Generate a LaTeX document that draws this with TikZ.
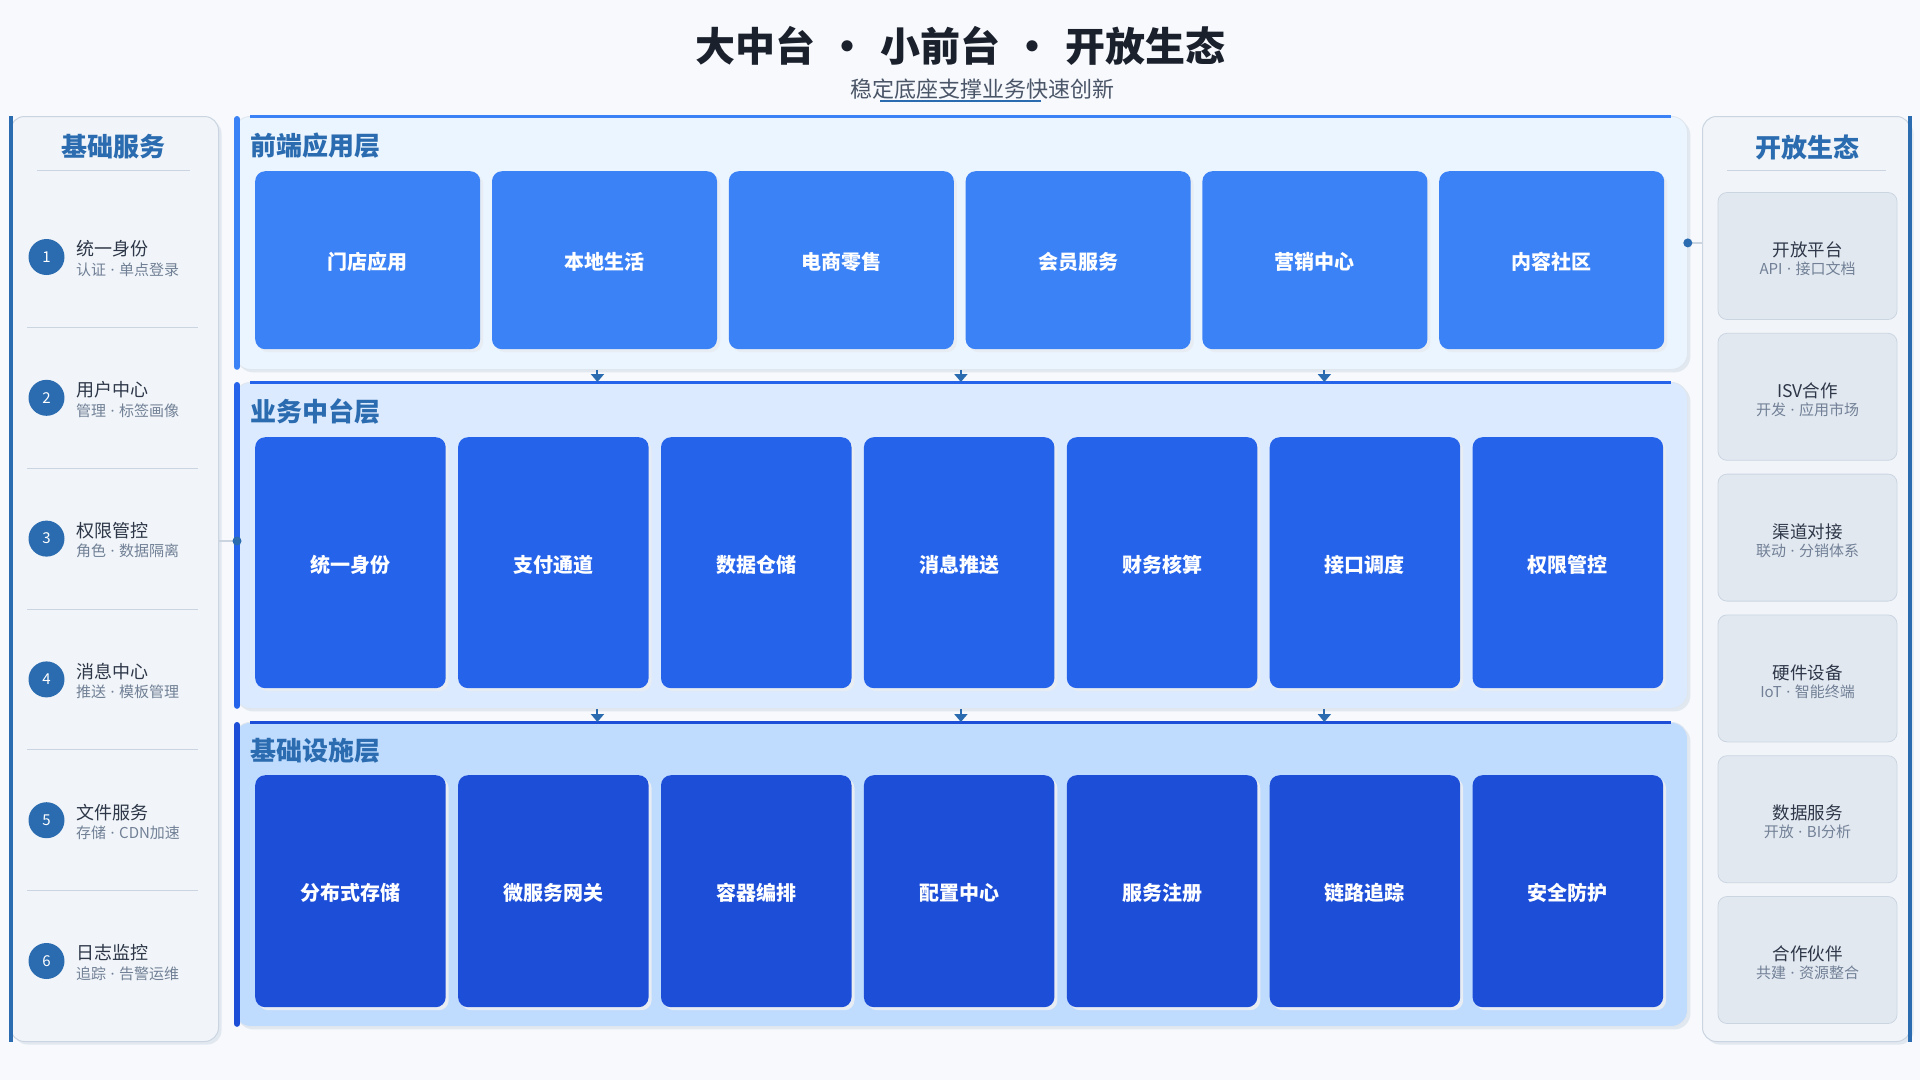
\documentclass[tikz,border=0pt]{standalone}
\usepackage{fontspec}
\setmainfont{Noto Sans CJK SC}
\newfontfamily\latinfont{Noto Sans}
\newcommand{\mydot}{\hspace{0.3em}{\latinfont ·}\hspace{0.3em}}
\usetikzlibrary{arrows.meta,calc}
\definecolor{pagebg}{HTML}{F7F9FC}
\definecolor{sidebg}{HTML}{F1F5F9}
\definecolor{sideline}{HTML}{CBD5E1}
\definecolor{shade}{HTML}{E2E8F0}
\definecolor{accent}{HTML}{2B6CB0}
\definecolor{titlec}{HTML}{1A202C}
\definecolor{subc}{HTML}{4A5568}
\definecolor{itemc}{HTML}{2D3748}
\definecolor{graytxt}{HTML}{718096}
\definecolor{cardgray}{HTML}{E2E8F0}
\definecolor{lyA}{HTML}{EBF5FF}
\definecolor{lyB}{HTML}{DBEAFE}
\definecolor{lyC}{HTML}{BFDBFE}
\definecolor{cdA}{HTML}{3B82F6}
\definecolor{cdB}{HTML}{2563EB}
\definecolor{cdC}{HTML}{1D4ED8}
\tikzset{
  shadowed/.style={preaction={fill=shade, transform canvas={shift={(3pt,-3pt)}}}},
  sidepanel/.style={shadowed, draw=sideline, line width=1pt, fill=sidebg, rounded corners=14pt, anchor=north west, inner sep=0pt},
  layerpanel/.style={shadowed, draw=sideline!60, line width=0.8pt, rounded corners=16pt, anchor=north west, inner sep=0pt},
  layercard/.style={preaction={fill=shade!80!white, transform canvas={shift={(3pt,-3pt)}}}, rounded corners=10pt, anchor=north west, inner sep=0pt},
  cardtext/.style={text=white, font=\fontsize{20}{24}\selectfont\bfseries, inner sep=0pt, yshift=-2pt},
  layerhead/.style={anchor=west, text=accent, font=\fontsize{26}{30}\selectfont\bfseries, inner sep=0pt},
  sidehead/.style={text=accent, font=\fontsize{26}{30}\selectfont\bfseries, inner sep=0pt},
  numc/.style={circle, fill=accent, text=white, minimum size=36pt, inner sep=0pt, font=\fontsize{15}{17}\selectfont},
  itemtitle/.style={anchor=west, text=itemc, font=\fontsize{18}{21}\selectfont, inner sep=0pt},
  itemsub/.style={anchor=west, text=graytxt, font=\fontsize{15}{17}\selectfont, inner sep=0pt},
  rcard/.style={draw=sideline, line width=0.8pt, fill=cardgray, rounded corners=9pt, minimum width=179pt, minimum height=127pt, inner sep=0pt},
  rtitle/.style={text=itemc, font=\fontsize{17.5}{20}\selectfont, inner sep=0pt},
  rsub/.style={text=graytxt, font=\fontsize{15}{17}\selectfont, inner sep=0pt},
  arr/.style={draw=accent, line width=2pt, -{Triangle[width=13pt,length=8pt]}},
  conn/.style={draw=sideline, line width=1.5pt},
  dotc/.style={circle, fill=accent, minimum size=9pt, inner sep=0pt},
}
\begin{document}
\begin{tikzpicture}[x=1pt,y=-1pt]
\useasboundingbox[fill=pagebg] (0,0) rectangle (1920,1080);

% title
\node[text=titlec, font=\fontsize{40}{46}\selectfont\bfseries, inner sep=0pt] (title) at (960,46)
  {大中台\makebox[65pt]{•}小前台\makebox[65pt]{•}开放生态};
\node[text=subc, font=\fontsize{22}{26}\selectfont, inner sep=0pt] (subtitle) at (982,89) {稳定底座支撑业务快速创新};
\coordinate (ulA) at (880,101);
\coordinate (ulB) at (1041,101);
\draw[accent, line width=2.2pt] (ulA) -- (ulB);

% left panel
\node[sidepanel, minimum width=208pt, minimum height=925pt] (LP) at (10,116) {};
\draw[accent, line width=4pt] ($(LP.north west)+(1,0)$) -- ($(LP.south west)+(1,0)$);
\node[sidehead] (LPh) at (113,147) {基础服务};
\coordinate (lhA) at (37,170); \coordinate (lhB) at (190,170);
\draw[sideline, line width=1pt] (lhA) -- (lhB);
\foreach \i/\t/\s [count=\k from 0] in {1/统一身份/认证\mydot 单点登录, 2/用户中心/管理\mydot 标签画像, 3/权限管控/角色\mydot 数据隔离, 4/消息中心/推送\mydot 模板管理, 5/文件服务/存储\mydot CDN加速, 6/日志监控/追踪\mydot 告警运维}{
  \pgfmathsetmacro{\yy}{257+140.8*\k}
  \node[numc] (n\i) at (46.5,\yy) {\i};
  \node[itemtitle] (it\i) at (76,\yy-8) {\t};
  \node[itemsub] (is\i) at (76,\yy+12.5) {\s};
}
\foreach \k in {1,...,5}{
  \pgfmathsetmacro{\yy}{257+140.8*\k-70.4}
  \coordinate (sepA\k) at (27,\yy); \coordinate (sepB\k) at (198,\yy);
  \draw[sideline, line width=1pt] (sepA\k) -- (sepB\k);
}

% right panel
\node[sidepanel, minimum width=208pt, minimum height=925pt] (RP) at (1702,116) {};
\draw[accent, line width=4pt] ($(RP.north east)+(-1,0)$) -- ($(RP.south east)+(-1,0)$);
\node[sidehead] (RPh) at (1807,147) {开放生态};
\coordinate (rhA) at (1727,170); \coordinate (rhB) at (1886,170);
\draw[sideline, line width=1pt] (rhA) -- (rhB);
\foreach \t/\s [count=\k from 0] in {开放平台/API\mydot 接口文档, ISV合作/开发\mydot 应用市场, 渠道对接/联动\mydot 分销体系, 硬件设备/IoT\mydot 智能终端, 数据服务/开放\mydot BI分析, 合作伙伴/共建\mydot 资源整合}{
  \pgfmathsetmacro{\yy}{256+140.8*\k}
  \node[rcard] (rc\k) at (1807.5,\yy) {};
  \node[rtitle] (rt\k) at (1807.5,\yy-6) {\t};
  \node[rsub] (rs\k) at (1807.5,\yy+13) {\s};
}

% layers
\node[layerpanel, fill=lyA, minimum width=1453pt, minimum height=253pt] (L1) at (234,116) {};
\node[layerpanel, fill=lyB, minimum width=1453pt, minimum height=326pt] (L2) at (234,382) {};
\node[layerpanel, fill=lyC, minimum width=1453pt, minimum height=304pt] (L3) at (234,722) {};
\foreach \L/\c in {L1/cdA, L2/cdB, L3/cdC}{
  \draw[\c, line width=6pt, line cap=round] ($(\L.north west)+(3,3)$) -- ($(\L.south west)+(3,-3)$);
  \draw[\c, line width=3pt] ($(\L.north west)+(16,0)$) -- ($(\L.north east)+(-17,0)$);
}
\node[layerhead] (h1) at (250,146) {前端应用层};
\node[layerhead] (h2) at (250,411) {业务中台层};
\node[layerhead] (h3) at (250,751) {基础设施层};

\foreach \t [count=\k from 0] in {门店应用,本地生活,电商零售,会员服务,营销中心,内容社区}{
  \node[layercard, fill=cdA, minimum width=225pt, minimum height=178pt] (a\k) at (255+236.8*\k,171) {};
  \node[cardtext] (at\k) at (a\k.center) {\t};
}
\foreach \t [count=\k from 0] in {统一身份,支付通道,数据仓储,消息推送,财务核算,接口调度,权限管控}{
  \node[layercard, fill=cdB, minimum width=190.5pt, minimum height=251pt] (b\k) at (255+202.9*\k,437) {};
  \node[cardtext] (bt\k) at (b\k.center) {\t};
}
\foreach \t [count=\k from 0] in {分布式存储,微服务网关,容器编排,配置中心,服务注册,链路追踪,安全防护}{
  \node[layercard, fill=cdC, minimum width=190.5pt, minimum height=232pt] (c\k) at (255+202.9*\k,775) {};
  \node[cardtext] (ct\k) at (c\k.center) {\t};
}

% arrows between layers
\foreach \f in {0.25,0.5,0.75}{
  \draw[arr] ($(L1.south west)!\f!(L1.south east)$) -- ($(L2.north west)!\f!(L2.north east)$);
  \draw[arr] ($(L2.south west)!\f!(L2.south east)$) -- ($(L3.north west)!\f!(L3.north east)$);
}

% side connectors
\coordinate (lc) at (237,541);
\draw[conn] (LP.east |- lc) -- (lc);
\node[dotc] (ldot) at (lc) {};
\draw[conn] (L1.east) -- (RP.west |- L1.east);
\node[dotc] (rdot) at (L1.east) {};
\end{tikzpicture}
\end{document}
